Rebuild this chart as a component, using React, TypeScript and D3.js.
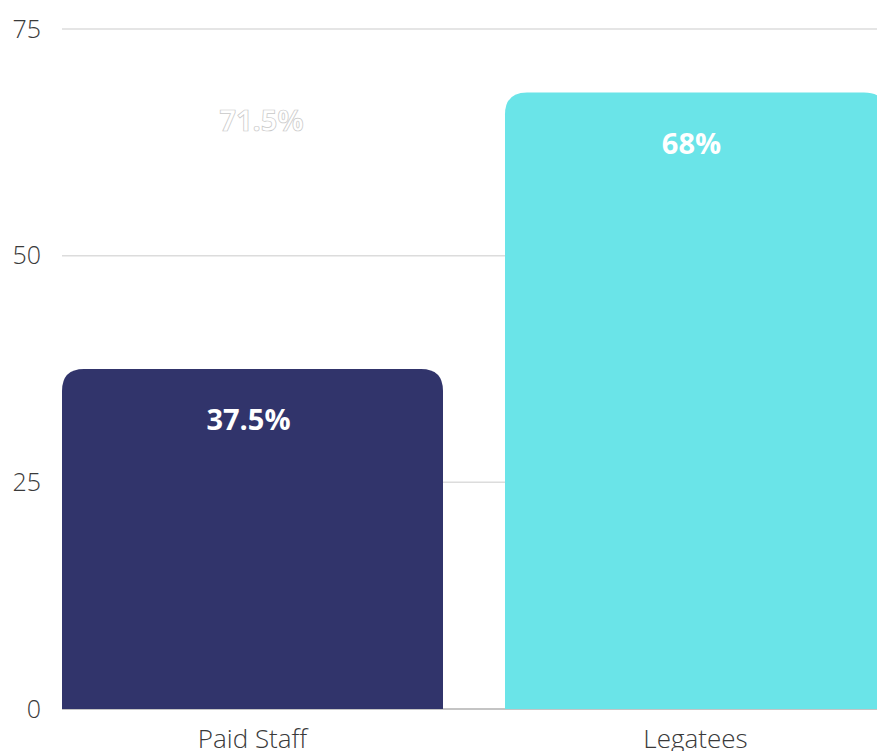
import * as d3 from 'd3';

const categories = ['Paid Staff', 'Legatees'];
const values = [37.5, 68];
const barColors = ['#31346b', '#6ae4e8'];
const tickValues = [0, 25, 50, 75];
// stray label drawn in white above the first bar
const ghostLabel = { category: 'Paid Staff', value: 71.5 };

export default function App() {
  const width = 877;
  const height = 751;
  const margin = { top: 29, left: 62, bottom: 42 };
  const innerBottom = height - margin.bottom;

  const y = d3.scaleLinear().domain([0, 75]).range([innerBottom, margin.top]);
  const x = d3
    .scaleBand<string>()
    .domain(categories)
    .range([margin.left, margin.left + 443 * 2 - 62])
    .paddingInner(62 / 443)
    .paddingOuter(0);

  const bw = x.bandwidth();
  const r = 22;
  const barPath = (cat: string, v: number) => {
    const x0 = x(cat) as number;
    const x1 = x0 + bw;
    const top = y(v);
    const bottom = y(0);
    return `M${x0},${bottom}V${top + r}Q${x0},${top} ${x0 + r},${top}H${x1 - r}Q${x1},${top} ${x1},${top + r}V${bottom}Z`;
  };

  const font = "'Open Sans', 'Noto Sans', sans-serif";
  const labelOffset = 51;

  return (
    <svg
      width={width}
      height={height}
      style={{ position: 'absolute', left: 0, top: 0, background: '#fff' }}
    >
      {tickValues.map((t) => (
        <g key={t}>
          <line
            x1={margin.left}
            x2={width}
            y1={y(t)}
            y2={y(t)}
            stroke={t === 0 ? '#8a8a8a' : '#dcdcdc'}
            strokeWidth={t === 0 ? 1.2 : 1.5}
          />
          <text
            x={41}
            y={y(t)}
            dy="0.35em"
            textAnchor="end"
            fontFamily={font}
            fontWeight={300}
            fontSize={25}
            fill="#3a3a3a"
          >
            {t}
          </text>
        </g>
      ))}
      {categories.map((c, i) => (
        <path key={c} d={barPath(c, values[i])} fill={barColors[i]} />
      ))}
      {categories.map((c, i) => (
        <text
          key={c + '-l'}
          x={(x(c) as number) + bw / 2 - 4}
          y={y(values[i]) + labelOffset}
          dy="0.35em"
          textAnchor="middle"
          fontFamily={font}
          fontWeight={700}
          fontSize={29}
          fill="#fff"
        >
          {values[i]}%
        </text>
      ))}
      <text
        x={(x(ghostLabel.category) as number) + bw / 2 + 9}
        y={y(ghostLabel.value) + labelOffset + 9}
        dy="0.35em"
        textAnchor="middle"
        fontFamily={font}
        fontWeight={700}
        fontSize={29}
        fill="#fff"
        stroke="#c8c8c8"
        strokeWidth={0.7}
      >
        {ghostLabel.value}%
      </text>
      {categories.map((c) => (
        <text
          key={c + '-x'}
          x={(x(c) as number) + bw / 2}
          y={innerBottom + 39}
          textAnchor="middle"
          fontFamily={font}
          fontWeight={300}
          fontSize={26}
          fill="#3a3a3a"
        >
          {c}
        </text>
      ))}
    </svg>
  );
}
